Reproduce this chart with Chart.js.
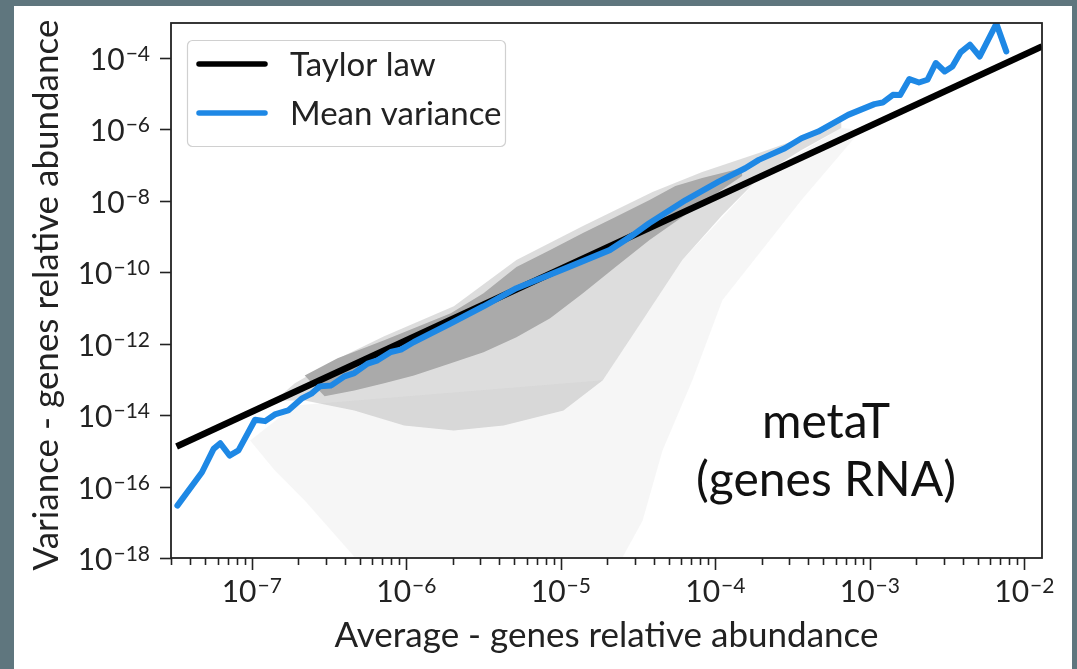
<!DOCTYPE html>
<html>
<head>
<meta charset="utf-8">
<script src="https://cdn.jsdelivr.net/npm/chart.js@4.4.1/dist/chart.umd.min.js"></script>
<style>
  html, body { margin: 0; padding: 0; background: #5f767e; width: 1077px; height: 669px; overflow: hidden; }
  #panel { position: absolute; left: 14px; top: 6px; width: 1058px; height: 663px; background: #fff; }
  #chart { position: absolute; left: 0; top: 0; }
</style>
</head>
<body>
<div id="panel"></div>
<canvas id="chart" width="1077" height="669"></canvas>
<script>
// Taylor law fit (straight line on log-log axes), end points
const taylorX = [3.26e-8, 1.30e-2];
const taylorY = [1.33e-15, 2.12e-4];

// binned mean variance (blue curve)
const meanX = [3.30e-8, 4.76e-8, 5.66e-8, 6.25e-8, 7.18e-8, 8.20e-8, 1.05e-7, 1.22e-7, 1.41e-7, 1.72e-7,
  2.10e-7, 2.43e-7, 2.75e-7, 3.27e-7, 3.98e-7, 4.61e-7, 5.62e-7, 6.52e-7, 7.94e-7, 9.23e-7,
  1.12e-6, 1.93e-6, 3.16e-6, 5.16e-6, 1.08e-5, 2.07e-5, 2.92e-5, 3.73e-5, 6.43e-5, 1.05e-4,
  1.56e-4, 1.91e-4, 2.82e-4, 3.61e-4, 4.63e-4, 7.23e-4, 1.07e-3, 1.21e-3, 1.41e-3, 1.57e-3,
  1.80e-3, 2.08e-3, 2.36e-3, 2.67e-3, 3.05e-3, 3.42e-3, 3.86e-3, 4.44e-3, 5.14e-3, 6.59e-3, 7.64e-3];
const meanY = [2.93e-17, 2.52e-16, 1.14e-15, 1.64e-15, 7.41e-16, 1.03e-15, 7.45e-15, 6.81e-15, 1.05e-14, 1.36e-14,
  2.89e-14, 4.00e-14, 6.40e-14, 6.82e-14, 1.22e-13, 1.51e-13, 2.77e-13, 3.44e-13, 5.87e-13, 6.85e-13,
  1.12e-12, 3.68e-12, 1.12e-11, 3.60e-11, 1.31e-10, 4.19e-10, 1.10e-9, 2.36e-9, 1.06e-8, 3.46e-8,
  8.22e-8, 1.41e-7, 2.99e-7, 5.70e-7, 8.75e-7, 2.57e-6, 5.13e-6, 5.69e-6, 9.35e-6, 9.20e-6,
  2.58e-5, 2.07e-5, 2.47e-5, 7.26e-5, 4.22e-5, 5.82e-5, 1.44e-4, 2.37e-4, 1.11e-4, 9.18e-4, 1.53e-4];

// outline of the dense core of the gene scatter cloud
const coreX = [2.20e-7, 3.59e-7, 7.19e-7, 1.94e-6, 3.16e-6, 5.16e-6, 8.53e-6, 1.39e-5, 2.26e-5, 3.75e-5, 5.51e-5, 8.22e-5, 1.49e-4,
  1.49e-4, 8.22e-5, 6.11e-5, 3.75e-5, 2.26e-5, 1.39e-5, 8.53e-6, 5.16e-6, 3.16e-6, 1.94e-6, 1.12e-6, 7.19e-7, 4.61e-7, 2.96e-7];
const coreY = [1.30e-13, 3.91e-13, 1.25e-12, 7.16e-12, 2.61e-11, 1.40e-10, 4.19e-10, 1.26e-9, 3.53e-9, 1.06e-8, 2.62e-8, 4.40e-8, 8.38e-8,
  5.00e-8, 8.73e-9, 3.53e-9, 8.00e-10, 1.40e-10, 2.61e-11, 5.18e-12, 1.52e-12, 5.75e-13, 2.83e-13, 1.30e-13, 7.78e-14, 4.94e-14, 3.36e-14];

// outline of the medium-density fringe of the cloud
const hazeX = [1.90e-7, 3.44e-7, 7.19e-7, 2.03e-6, 5.16e-6, 1.39e-5, 3.92e-5, 8.22e-5, 2.00e-4, 3.61e-4, 6.53e-4,
  6.53e-4, 3.61e-4, 2.00e-4, 1.11e-4, 6.11e-5, 3.38e-5, 1.87e-5, 1.04e-5, 4.26e-6, 2.03e-6, 9.68e-7, 4.61e-7, 2.20e-7, 1.41e-7];
const hazeY = [7.78e-14, 3.44e-13, 1.62e-12, 1.12e-11, 2.20e-10, 1.98e-9, 1.78e-8, 6.47e-8, 2.36e-7, 5.82e-7, 1.64e-6,
  1.11e-6, 2.68e-7, 5.33e-8, 4.02e-9, 2.20e-10, 4.55e-12, 9.44e-14, 1.36e-14, 5.15e-15, 3.73e-15, 5.15e-15, 1.36e-14, 2.59e-14, 2.59e-14];

// outline of the sparse outliers below the cloud
const sparseX = [9.75e-8, 1.90e-7, 1.87e-5, 6.11e-5, 2.00e-4, 6.53e-4, 8.79e-4, 3.61e-4, 1.11e-4, 7.10e-5, 4.55e-5, 3.38e-5, 2.52e-5, 4.61e-7, 2.20e-7, 1.41e-7];
const sparseY = [1.95e-15, 1.87e-14, 9.44e-14, 2.20e-10, 5.33e-8, 1.11e-6, 9.75e-7, 1.06e-8, 1.66e-11, 9.44e-14, 1.03e-15, 1.11e-17, 1.09e-18, 1.09e-18, 4.06e-17, 2.81e-16];

const seriesNames = ['Taylor law', 'Mean variance'];
const xTickPowers = [-7, -6, -5, -4, -3, -2];
const yTickPowers = [-18, -16, -14, -12, -10, -8, -6, -4];
const xTitle = 'Average - genes relative abundance';
const yTitle = 'Variance - genes relative abundance';
const boxText = ['metaT', '(genes RNA)'];

const FONT = 'Lato, "Noto Sans", sans-serif';
const INK = '#222222';

function pts(xs, ys) {
  return xs.map((x, i) => ({x: x, y: ys[i]}));
}

function shape(xs, ys, color, order) {
  return {
    data: pts(xs, ys),
    showLine: true,
    fill: 'shape',
    backgroundColor: color,
    borderWidth: 0,
    pointRadius: 0,
    pointHoverRadius: 0,
    order: order
  };
}

// "10" with a raised exponent, y = baseline of the "10"
function drawPower(ctx, exp, x, y, align) {
  const base = '10';
  const sup = '\u2212' + Math.abs(exp);
  ctx.font = '30px ' + FONT;
  const wb = ctx.measureText(base).width;
  ctx.font = '21px ' + FONT;
  const ws = ctx.measureText(sup).width;
  const x0 = align === 'right' ? x - wb - ws - 1 : x - (wb + ws + 1) / 2;
  ctx.textAlign = 'left';
  ctx.textBaseline = 'alphabetic';
  ctx.font = '30px ' + FONT;
  ctx.fillText(base, x0, y);
  ctx.font = '21px ' + FONT;
  ctx.fillText(sup, x0 + wb + 1, y - 9);
}

const axesPlugin = {
  id: 'mplAxes',
  afterDraw(chart) {
    const ctx = chart.ctx;
    const area = chart.chartArea;
    const sx = chart.scales.x;
    const sy = chart.scales.y;
    ctx.save();
    ctx.fillStyle = INK;
    ctx.strokeStyle = INK;

    // frame
    ctx.lineWidth = 1.8;
    ctx.strokeRect(area.left, area.top, area.right - area.left, area.bottom - area.top);

    // x ticks, major + minor
    ctx.lineWidth = 1.6;
    for (let p = -8; p <= -2; p++) {
      for (let m = 1; m <= 9; m++) {
        const v = m * Math.pow(10, p);
        if (v < sx.min || v > sx.max) continue;
        const px = Math.round(sx.getPixelForValue(v)) + 0.5;
        const len = m === 1 ? 12 : 7;
        ctx.beginPath();
        ctx.moveTo(px, area.bottom);
        ctx.lineTo(px, area.bottom + len);
        ctx.stroke();
      }
    }
    xTickPowers.forEach(p => {
      drawPower(ctx, p, sx.getPixelForValue(Math.pow(10, p)), 602, 'center');
    });

    // y ticks
    yTickPowers.forEach(p => {
      const py = Math.round(sy.getPixelForValue(Math.pow(10, p))) + 0.5;
      ctx.beginPath();
      ctx.moveTo(area.left - 11, py);
      ctx.lineTo(area.left, py);
      ctx.stroke();
      drawPower(ctx, p, 150, py + 11, 'right');
    });

    // axis titles
    ctx.font = '35px ' + FONT;
    ctx.textAlign = 'center';
    ctx.textBaseline = 'alphabetic';
    ctx.fillText(xTitle, (area.left + area.right) / 2, 647);
    ctx.save();
    ctx.translate(58, 295);
    ctx.rotate(-Math.PI / 2);
    ctx.fillText(yTitle, 0, 0);
    ctx.restore();

    // text inside the plot
    ctx.font = '48px ' + FONT;
    ctx.fillStyle = '#111';
    ctx.fillText(boxText[0], 826, 438);
    ctx.fillText(boxText[1], 826, 496);

    // legend
    ctx.beginPath();
    ctx.roundRect(187.5, 40.5, 318, 106, 5);
    ctx.fillStyle = 'rgba(255,255,255,0.8)';
    ctx.fill();
    ctx.strokeStyle = '#d0d0d0';
    ctx.lineWidth = 1.2;
    ctx.stroke();
    const lines = chart.data.datasets.filter(d => d.label);
    const rows = [64, 113];
    lines.forEach((d, i) => {
      ctx.beginPath();
      ctx.moveTo(199, rows[i]);
      ctx.lineTo(265, rows[i]);
      ctx.strokeStyle = d.borderColor;
      ctx.lineWidth = 5.5;
      ctx.lineCap = 'round';
      ctx.stroke();
      ctx.fillStyle = INK;
      ctx.font = '33px ' + FONT;
      ctx.textAlign = 'left';
      ctx.textBaseline = 'middle';
      ctx.fillText(d.label, 290, rows[i] + 1);
    });
    ctx.restore();
  }
};

new Chart(document.getElementById('chart').getContext('2d'), {
  type: 'scatter',
  data: {
    datasets: [
      {
        label: seriesNames[0],
        data: pts(taylorX, taylorY),
        showLine: true,
        borderColor: '#000000',
        borderWidth: 6.5,
        pointRadius: 0,
        fill: false,
        order: 2
      },
      {
        label: seriesNames[1],
        data: pts(meanX, meanY),
        showLine: true,
        borderColor: '#1e88e5',
        borderWidth: 6,
        borderJoinStyle: 'round',
        borderCapStyle: 'round',
        pointRadius: 0,
        fill: false,
        order: 1
      },
      shape(sparseX, sparseY, 'rgba(170,170,170,0.10)', 6),
      shape(hazeX, hazeY, 'rgba(170,170,170,0.4)', 5),
      shape(coreX, coreY, '#aaaaaa', 4)
    ]
  },
  options: {
    responsive: false,
    animation: false,
    devicePixelRatio: 1,
    layout: { padding: { left: 171, top: 23, right: 35, bottom: 111 } },
    scales: {
      x: { type: 'logarithmic', min: 3.26e-8, max: 1.30e-2, display: false },
      y: { type: 'logarithmic', min: 1e-18, max: 9.6e-4, display: false }
    },
    plugins: {
      legend: { display: false },
      tooltip: { enabled: false }
    }
  },
  plugins: [axesPlugin]
});
</script>
</body>
</html>
